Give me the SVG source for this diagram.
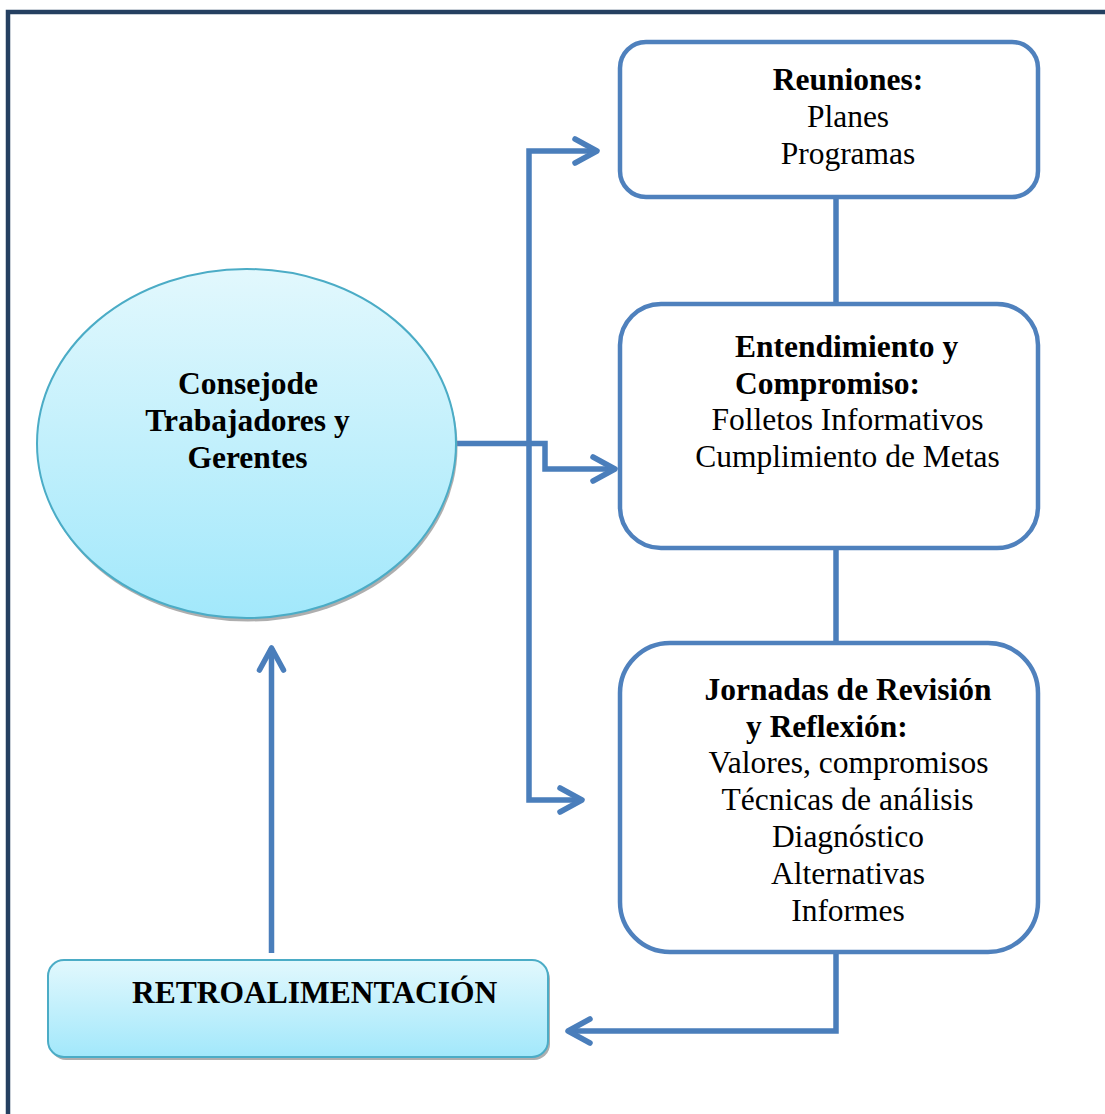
<svg xmlns="http://www.w3.org/2000/svg" width="1105" height="1114" viewBox="0 0 1105 1114">
<defs>
<linearGradient id="cyan" x1="0" y1="0" x2="0" y2="1">
<stop offset="0" stop-color="#e2f8fd"/>
<stop offset="1" stop-color="#a2e8fb"/>
</linearGradient>
<marker id="ah" markerUnits="userSpaceOnUse" markerWidth="60" markerHeight="60" viewBox="-30 -30 60 60" refX="0" refY="0" orient="auto-start-reverse">
<path d="M-22,-12 L0,0 L-22,12" fill="none" stroke="#4a7ebb" stroke-width="5.5" stroke-linecap="round" stroke-linejoin="round"/>
</marker>
<style>
.box{fill:#fff;stroke:#4f81bd;stroke-width:4.5}
.cyanshape{fill:url(#cyan);stroke:#4bacc6;stroke-width:2}
.shadow{fill:#9a9a9a;opacity:0.8}
.conn{fill:none;stroke:#4a7ebb;stroke-width:5.5;stroke-linejoin:miter}
.arrow{marker-end:url(#ah)}
.both{marker-start:url(#ah);marker-end:url(#ah)}
text{font-family:"Liberation Serif","Times New Roman",serif;font-size:31.5px;fill:#000}
.b{font-weight:bold}
.c{text-anchor:middle}
</style>
</defs>
<rect width="1105" height="1114" fill="#fff"/>
<rect id="frame" x="8" y="12" width="1120" height="1130" fill="none" stroke="#254061" stroke-width="4.5"/>

<g id="connectors">
<path class="conn" d="M836,197 V304"/>
<path class="conn" d="M836,548 V643"/>
<path class="conn both" d="M597,151 H529 V800 H582"/>
<path class="conn arrow" d="M456,443.5 H545 V469 H615"/>
<path class="conn arrow" d="M836,952 V1031 H568"/>
<path class="conn arrow" d="M271.5,953 V648"/>
</g>

<g id="consejo">
<ellipse class="shadow" cx="248" cy="447" rx="209.5" ry="174.5"/>
<ellipse class="cyanshape" cx="246.5" cy="443.5" rx="209.5" ry="174.5"/>
<text class="b c" x="248" y="394">Consejode</text>
<text class="b c" x="247.5" y="431">Trabajadores y</text>
<text class="b c" x="247.5" y="468">Gerentes</text>
</g>

<g id="reuniones">
<rect class="box" x="620" y="42" width="418" height="155" rx="26"/>
<text class="b c" x="848" y="90">Reuniones:</text>
<text class="c" x="848" y="127">Planes</text>
<text class="c" x="848" y="164">Programas</text>
</g>

<g id="entendimiento">
<rect class="box" x="620" y="304" width="418" height="244" rx="41"/>
<text class="b" x="735" y="357">Entendimiento y</text>
<text class="b" x="735" y="394">Compromiso:</text>
<text class="c" x="847.5" y="430">Folletos Informativos</text>
<text class="c" x="847.5" y="467">Cumplimiento de Metas</text>
</g>

<g id="jornadas">
<rect class="box" x="620" y="643" width="418" height="309" rx="50"/>
<text class="b c" x="848" y="700">Jornadas de Revisión</text>
<text class="b" x="746" y="737">y Reflexión:</text>
<text class="c" x="848.5" y="773">Valores, compromisos</text>
<text class="c" x="847.5" y="810">Técnicas de análisis</text>
<text class="c" x="848" y="847">Diagnóstico</text>
<text class="c" x="848" y="884">Alternativas</text>
<text class="c" x="848" y="921">Informes</text>
</g>

<g id="retroalimentacion">
<rect class="shadow" x="50" y="963" width="500" height="97" rx="16"/>
<rect class="cyanshape" x="48" y="960" width="500" height="97" rx="16"/>
<text class="b" x="132" y="1003">RETROALIMENTACIÓN</text>
</g>
</svg>
